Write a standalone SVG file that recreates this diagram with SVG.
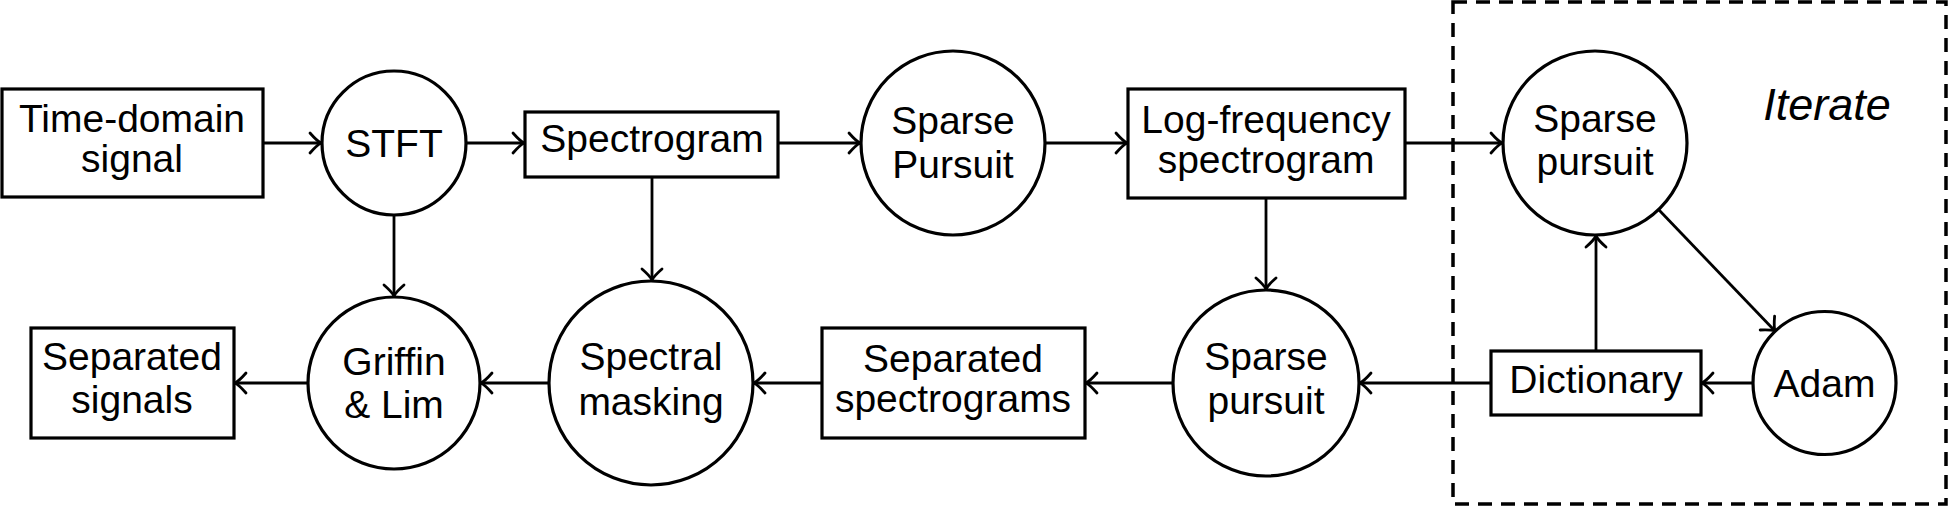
<svg xmlns="http://www.w3.org/2000/svg" width="1948" height="506" viewBox="0 0 1948 506">
<style>
.box{fill:#fff;stroke:#000;stroke-width:3.2}
.lbl{font-family:"Liberation Sans",Arial,sans-serif;font-size:39px;fill:#000;text-anchor:middle}
.it{font-family:"Liberation Sans",Arial,sans-serif;font-size:45px;font-style:italic;fill:#000;text-anchor:middle}
.edge{fill:none;stroke:#000;stroke-width:2.8;marker-end:url(#arr)}
.frame{fill:none;stroke:#000;stroke-width:3.5;stroke-dasharray:14 9}
</style>
<defs>
<marker id="arr" markerUnits="userSpaceOnUse" viewBox="-14 -12 16 24" refX="0" refY="0" markerWidth="16" markerHeight="24" orient="auto" overflow="visible">
<path d="M-11,-10 Q-4,-2 0,0 Q-4,2 -11,10" fill="none" stroke="#000" stroke-width="2.8" stroke-linecap="round"/>
</marker>
</defs>
<rect class="frame" x="1453" y="2" width="493" height="502"/>
<text class="it" x="1827" y="120">Iterate</text>
<g id="connectors">
<line class="edge" x1="263" y1="143" x2="321" y2="143"/>
<line class="edge" x1="466" y1="143" x2="524" y2="143"/>
<line class="edge" x1="778" y1="143" x2="860" y2="143"/>
<line class="edge" x1="1045" y1="143" x2="1127" y2="143"/>
<line class="edge" x1="1405" y1="143" x2="1502" y2="143"/>
<line class="edge" x1="394" y1="215" x2="394" y2="296"/>
<line class="edge" x1="652" y1="177" x2="652" y2="280"/>
<line class="edge" x1="1266" y1="198" x2="1266" y2="289"/>
<line class="edge" x1="1596" y1="351" x2="1596" y2="236"/>
<line class="edge" x1="1659" y1="210" x2="1775" y2="331"/>
<line class="edge" x1="1753" y1="383" x2="1702" y2="383"/>
<line class="edge" x1="1491" y1="383" x2="1360" y2="383"/>
<line class="edge" x1="1173" y1="383" x2="1086" y2="383"/>
<line class="edge" x1="822" y1="383" x2="754" y2="383"/>
<line class="edge" x1="549" y1="383" x2="481" y2="383"/>
<line class="edge" x1="308" y1="383" x2="235" y2="383"/>
</g>
<g id="time-domain">
<rect class="box" x="2" y="89" width="261" height="108"/>
<text class="lbl" x="132" y="132">Time-domain</text>
<text class="lbl" x="132" y="172">signal</text>
</g>
<g id="stft">
<circle class="box" cx="394" cy="143" r="72"/>
<text class="lbl" x="394" y="157">STFT</text>
</g>
<g id="spectrogram">
<rect class="box" x="525" y="112" width="253" height="65"/>
<text class="lbl" x="652" y="152">Spectrogram</text>
</g>
<g id="sparse-pursuit-1">
<circle class="box" cx="953" cy="143" r="92"/>
<text class="lbl" x="953" y="134">Sparse</text>
<text class="lbl" x="953" y="178">Pursuit</text>
</g>
<g id="log-frequency">
<rect class="box" x="1128" y="89" width="277" height="109"/>
<text class="lbl" x="1266" y="133">Log-frequency</text>
<text class="lbl" x="1266" y="173">spectrogram</text>
</g>
<g id="sparse-pursuit-iter">
<circle class="box" cx="1595" cy="143" r="92"/>
<text class="lbl" x="1595" y="132">Sparse</text>
<text class="lbl" x="1595" y="175">pursuit</text>
</g>
<g id="adam">
<circle class="box" cx="1824.5" cy="383" r="71.5"/>
<text class="lbl" x="1824.5" y="397">Adam</text>
</g>
<g id="dictionary">
<rect class="box" x="1491" y="351" width="210" height="64"/>
<text class="lbl" x="1596" y="393">Dictionary</text>
</g>
<g id="sparse-pursuit-2">
<circle class="box" cx="1266" cy="383" r="93"/>
<text class="lbl" x="1266" y="370">Sparse</text>
<text class="lbl" x="1266" y="414">pursuit</text>
</g>
<g id="separated-spectrograms">
<rect class="box" x="822" y="328" width="263" height="110"/>
<text class="lbl" x="953" y="372">Separated</text>
<text class="lbl" x="953" y="412">spectrograms</text>
</g>
<g id="spectral-masking">
<circle class="box" cx="651" cy="383" r="102"/>
<text class="lbl" x="651" y="370">Spectral</text>
<text class="lbl" x="651" y="415">masking</text>
</g>
<g id="griffin-lim">
<circle class="box" cx="394" cy="383" r="86"/>
<text class="lbl" x="394" y="375">Griffin</text>
<text class="lbl" x="394" y="418">&amp; Lim</text>
</g>
<g id="separated-signals">
<rect class="box" x="31" y="328" width="203" height="110"/>
<text class="lbl" x="132" y="370">Separated</text>
<text class="lbl" x="132" y="413">signals</text>
</g>
</svg>
